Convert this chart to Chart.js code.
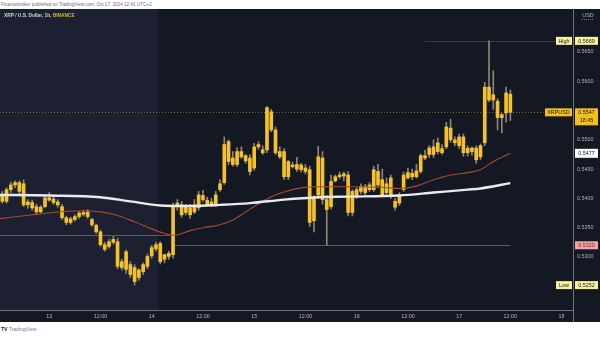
<!DOCTYPE html>
<html>
<head>
<meta charset="utf-8">
<script src="https://cdn.jsdelivr.net/npm/chart.js@4"></script>
<style>
  html, body { margin: 0; padding: 0; background: #fff; width: 600px; height: 337px; overflow: hidden; }
  #header { height: 9px; font: 4.6px 'Liberation Sans', Arial, sans-serif; color: #6a6d78; line-height: 9px; padding-left: 1px; white-space: nowrap; }
  #chart-wrap { width: 600px; height: 313px; }
  #footer { height: 15px; font: bold 5px 'Liberation Sans', Arial, sans-serif; color: #131722; line-height: 15px; padding-left: 1px; }
  #footer span { font-weight: normal; color: #787b86; }
</style>
</head>
<body>
<div id="header">Financebroker published on TradingView.com, Oct 17, 2024 12:41 UTC+2</div>
<div id="chart-wrap"><canvas id="xrp-chart" width="600" height="313"></canvas></div>
<div id="footer">TV <span>TradingView</span></div>
<script>
// XRP/USD 1h candles, Oct 12 12:00 -> Oct 17 12:00 (index = hours)
const opens = [
  0.5394, 0.5406, 0.5395, 0.5415, 0.5423, 0.5427, 0.5425, 0.5389, 0.5393, 0.5386,
  0.5377, 0.5386, 0.5401, 0.5399, 0.5394, 0.5386, 0.5367, 0.5359, 0.5364, 0.5369,
  0.5373, 0.5377, 0.5364, 0.5354, 0.5343, 0.5321, 0.5318, 0.5325, 0.5326, 0.5292,
  0.5279, 0.5287, 0.5282, 0.5265, 0.5275, 0.5284, 0.5302, 0.5314, 0.5323, 0.5296,
  0.5301, 0.5304, 0.5386, 0.5389, 0.5376, 0.5384, 0.5377, 0.5384, 0.5405, 0.5397,
  0.5390, 0.5389, 0.5415, 0.5427, 0.5463, 0.5469, 0.5458, 0.5480, 0.5464, 0.5469,
  0.5452, 0.5488, 0.5483, 0.5483, 0.5548, 0.5517, 0.5480, 0.5480, 0.5437, 0.5457,
  0.5458, 0.5449, 0.5452, 0.5449, 0.5362, 0.5406, 0.5469, 0.5398, 0.5386, 0.5430,
  0.5437, 0.5438, 0.5440, 0.5376, 0.5403, 0.5412, 0.5420, 0.5415, 0.5415, 0.5446,
  0.5432, 0.5410, 0.5435, 0.5395, 0.5392, 0.5415, 0.5435, 0.5437, 0.5437, 0.5446,
  0.5473, 0.5475, 0.5475, 0.5480, 0.5485, 0.5488, 0.5520, 0.5500, 0.5490, 0.5505,
  0.5478, 0.5480, 0.5486, 0.5471, 0.5495, 0.5590, 0.5568, 0.5566, 0.5538, 0.5546,
  0.5578
];
const highs = [
  0.5410, 0.5412, 0.5418, 0.5428, 0.5430, 0.5430, 0.5432, 0.5398, 0.5397, 0.5390,
  0.5388, 0.5405, 0.5410, 0.5404, 0.5398, 0.5390, 0.5370, 0.5368, 0.5372, 0.5378,
  0.5380, 0.5381, 0.5366, 0.5356, 0.5346, 0.5325, 0.5330, 0.5335, 0.5332, 0.5296,
  0.5312, 0.5292, 0.5287, 0.5280, 0.5290, 0.5305, 0.5320, 0.5325, 0.5326, 0.5305,
  0.5310, 0.5392, 0.5398, 0.5395, 0.5390, 0.5390, 0.5398, 0.5412, 0.5414, 0.5402,
  0.5400, 0.5412, 0.5432, 0.5505, 0.5500, 0.5480, 0.5487, 0.5488, 0.5475, 0.5475,
  0.5494, 0.5497, 0.5490, 0.5557, 0.5552, 0.5522, 0.5488, 0.5485, 0.5465, 0.5462,
  0.5470, 0.5460, 0.5458, 0.5455, 0.5405, 0.5489, 0.5480, 0.5405, 0.5440, 0.5440,
  0.5445, 0.5445, 0.5446, 0.5415, 0.5418, 0.5425, 0.5424, 0.5427, 0.5455, 0.5458,
  0.5450, 0.5435, 0.5440, 0.5400, 0.5410, 0.5445, 0.5452, 0.5450, 0.5458, 0.5476,
  0.5482, 0.5490, 0.5500, 0.5503, 0.5492, 0.5530, 0.5535, 0.5505, 0.5510, 0.5510,
  0.5490, 0.5488, 0.5490, 0.5493, 0.5598, 0.5669, 0.5618, 0.5570, 0.5545, 0.5590,
  0.5585
];
const lows = [
  0.5390, 0.5392, 0.5392, 0.5410, 0.5418, 0.5408, 0.5386, 0.5383, 0.5380, 0.5372,
  0.5375, 0.5384, 0.5395, 0.5390, 0.5385, 0.5364, 0.5355, 0.5356, 0.5361, 0.5366,
  0.5370, 0.5366, 0.5352, 0.5340, 0.5318, 0.5310, 0.5315, 0.5322, 0.5280, 0.5278,
  0.5272, 0.5265, 0.5252, 0.5260, 0.5270, 0.5280, 0.5298, 0.5310, 0.5288, 0.5290,
  0.5296, 0.5298, 0.5380, 0.5368, 0.5372, 0.5366, 0.5374, 0.5380, 0.5395, 0.5386,
  0.5386, 0.5386, 0.5412, 0.5424, 0.5458, 0.5455, 0.5454, 0.5468, 0.5460, 0.5440,
  0.5448, 0.5484, 0.5475, 0.5478, 0.5514, 0.5475, 0.5468, 0.5432, 0.5432, 0.5452,
  0.5446, 0.5445, 0.5442, 0.5352, 0.5343, 0.5400, 0.5390, 0.5320, 0.5382, 0.5428,
  0.5434, 0.5430, 0.5370, 0.5370, 0.5400, 0.5408, 0.5405, 0.5412, 0.5412, 0.5420,
  0.5403, 0.5407, 0.5400, 0.5380, 0.5388, 0.5412, 0.5433, 0.5432, 0.5435, 0.5443,
  0.5466, 0.5470, 0.5470, 0.5476, 0.5475, 0.5485, 0.5496, 0.5490, 0.5485, 0.5472,
  0.5472, 0.5474, 0.5460, 0.5466, 0.5490, 0.5565, 0.5552, 0.5517, 0.5512, 0.5530,
  0.5533
];
const closes = [
  0.5406, 0.5395, 0.5415, 0.5423, 0.5427, 0.5412, 0.5389, 0.5394, 0.5384, 0.5377,
  0.5385, 0.5401, 0.5397, 0.5393, 0.5389, 0.5367, 0.5359, 0.5365, 0.5369, 0.5375,
  0.5376, 0.5369, 0.5355, 0.5343, 0.5321, 0.5313, 0.5326, 0.5330, 0.5284, 0.5282,
  0.5309, 0.5270, 0.5258, 0.5278, 0.5287, 0.5301, 0.5316, 0.5321, 0.5292, 0.5304,
  0.5306, 0.5386, 0.5392, 0.5372, 0.5386, 0.5372, 0.5389, 0.5406, 0.5398, 0.5389,
  0.5394, 0.5406, 0.5425, 0.5492, 0.5497, 0.5458, 0.5480, 0.5471, 0.5473, 0.5446,
  0.5488, 0.5492, 0.5478, 0.5555, 0.5517, 0.5478, 0.5471, 0.5437, 0.5463, 0.5454,
  0.5450, 0.5457, 0.5446, 0.5359, 0.5402, 0.5471, 0.5398, 0.5381, 0.5429, 0.5437,
  0.5440, 0.5442, 0.5376, 0.5412, 0.5415, 0.5420, 0.5410, 0.5423, 0.5449, 0.5423,
  0.5406, 0.5425, 0.5403, 0.5385, 0.5406, 0.5440, 0.5444, 0.5443, 0.5447, 0.5473,
  0.5469, 0.5486, 0.5488, 0.5495, 0.5478, 0.5522, 0.5500, 0.5495, 0.5505, 0.5478,
  0.5486, 0.5486, 0.5466, 0.5490, 0.5590, 0.5568, 0.5577, 0.5538, 0.5543, 0.5580,
  0.5547
];

// moving averages at a few hours
const ma200Hours = [0, 12, 24, 31, 38, 45, 52, 59, 67, 75, 82, 94, 102, 110, 113, 120];
const ma200 = [0.5406, 0.5405, 0.5402, 0.5395, 0.5388, 0.5387, 0.5389, 0.5392, 0.5398, 0.5402,
               0.5403, 0.5405, 0.5410, 0.5415, 0.5417, 0.5426];
const ma50Hours = [0, 8, 16, 20, 24, 28, 32, 36, 39, 41, 45, 48, 52, 55, 58, 61, 64, 67, 71, 75,
                   82, 90, 94, 98, 102, 106, 110, 113, 116, 120];
const ma50 = [0.5365, 0.5372, 0.5378, 0.5379, 0.5377, 0.5371, 0.5360, 0.5348, 0.5340, 0.5337,
              0.5345, 0.5350, 0.5355, 0.5363, 0.5377, 0.5391, 0.5403, 0.5411, 0.5418, 0.5420,
              0.5420, 0.5419, 0.5417, 0.5421, 0.5432, 0.5440, 0.5444, 0.5449, 0.5463, 0.5477];

// axes
const xTickHours = [12, 24, 36, 48, 60, 72, 84, 96, 108, 120, 132];
const xTickLabels = ['13', '12:00', '14', '12:00', '15', '12:00', '16', '12:00', '17', '12:00', '18'];
const yTicks = [0.5300, 0.5350, 0.5400, 0.5450, 0.5500, 0.5600, 0.5650];

// markers
const lastPrice = 0.5547;
const countdown = '18:45';
const highPrice = 0.5669;
const highFromHour = 100;
const lowPrice = 0.5252;
const ma50Last = 0.5477;
const levelPrices = [0.5337, 0.5320];
const levelFrom = [0, 41];
const levelTo = [40, 120];
const shadedUntilHour = 37.5;

const BG = '#141823';
const SHADE = '#1c2031';
const TEXT = '#b2b5be';
const FONT = "'Liberation Sans', Arial, sans-serif";

const wickData = lows.map((l, i) => ({ x: i, y: [l, highs[i]] }));
const bodyData = opens.map((o, i) => ({ x: i, y: [o, closes[i]] }));
const ma200Data = ma200Hours.map((h, i) => ({ x: h, y: ma200[i] }));
const ma50Data = ma50Hours.map((h, i) => ({ x: h, y: ma50[i] }));

function priceTag(ctx, x, y, w, h, bg, fg, text) {
    ctx.fillStyle = bg;
    ctx.fillRect(x, y - h / 2, w, h);
    ctx.fillStyle = fg;
    ctx.textBaseline = 'middle';
    ctx.textAlign = 'center';
    ctx.fillText(text, x + w / 2, y + 0.3);
}

const backdrop = {
    id: 'backdrop',
    beforeDraw(chart) {
        const { ctx, chartArea, scales } = chart;
        ctx.save();
        ctx.fillStyle = BG;
        ctx.fillRect(0, 0, chart.width, chart.height);
        const xEnd = scales.x.getPixelForValue(shadedUntilHour);
        ctx.fillStyle = SHADE;
        ctx.fillRect(chartArea.left, chartArea.top, xEnd - chartArea.left, chartArea.bottom - chartArea.top);
        ctx.restore();
    },
    beforeDatasetsDraw(chart) {
        const { ctx, chartArea, scales } = chart;
        const x = scales.x, y = scales.y;
        ctx.save();
        ctx.lineWidth = 1;
        // horizontal levels
        ctx.strokeStyle = 'rgba(150, 140, 155, 0.55)';
        levelPrices.forEach((p, i) => {
            const py = Math.round(y.getPixelForValue(p)) + 0.5;
            ctx.beginPath();
            ctx.moveTo(Math.max(chartArea.left, x.getPixelForValue(levelFrom[i])), py);
            ctx.lineTo(x.getPixelForValue(levelTo[i]), py);
            ctx.stroke();
        });
        // high line
        ctx.strokeStyle = 'rgba(120, 123, 134, 0.35)';
        let py = Math.round(y.getPixelForValue(highPrice)) + 0.5;
        ctx.beginPath();
        ctx.moveTo(x.getPixelForValue(highFromHour), py);
        ctx.lineTo(chartArea.right, py);
        ctx.stroke();
        // last price line
        ctx.strokeStyle = 'rgba(230, 185, 50, 0.5)';
        ctx.setLineDash([1, 2]);
        py = Math.round(y.getPixelForValue(lastPrice)) + 0.5;
        ctx.beginPath();
        ctx.moveTo(chartArea.left, py);
        ctx.lineTo(chartArea.right, py);
        ctx.stroke();
        ctx.restore();
    },
    afterDraw(chart) {
        const { ctx, chartArea, scales } = chart;
        const y = scales.y;
        const axX = chartArea.right + 1;
        ctx.save();
        // separator running through the time axis
        ctx.strokeStyle = '#6f727c';
        ctx.lineWidth = 1;
        ctx.beginPath();
        ctx.moveTo(chartArea.right + 0.5, 0);
        ctx.lineTo(chartArea.right + 0.5, chart.height);
        ctx.stroke();

        ctx.font = '5.4px ' + FONT;
        // USD
        ctx.fillStyle = TEXT;
        ctx.textAlign = 'center';
        ctx.textBaseline = 'middle';
        ctx.fillText('USD', 588, 7);
        ctx.strokeStyle = 'rgba(178,181,190,0.6)';
        ctx.setLineDash([1, 1]);
        ctx.beginPath();
        ctx.moveTo(582, 10.5);
        ctx.lineTo(594, 10.5);
        ctx.stroke();
        ctx.setLineDash([]);

        // high / low
        let py = y.getPixelForValue(highPrice);
        priceTag(ctx, chartArea.right - 17, py, 16, 8, '#f6f0a0', '#222', 'High');
        priceTag(ctx, axX + 1, py, 23, 8, '#f6f0a0', '#222', highPrice.toFixed(4));
        py = y.getPixelForValue(lowPrice);
        priceTag(ctx, chartArea.right - 17, py, 16, 8, '#f6f0a0', '#222', 'Low');
        priceTag(ctx, axX + 1, py, 23, 8, '#f6f0a0', '#222', lowPrice.toFixed(4));

        // last price
        py = y.getPixelForValue(lastPrice);
        priceTag(ctx, chartArea.right - 28, py, 27, 8, '#f5bf1e', '#1a1a1a', 'XRPUSD');
        ctx.fillStyle = '#f5bf1e';
        ctx.fillRect(axX + 1, py - 4, 23, 17);
        ctx.fillStyle = '#1a1a1a';
        ctx.textAlign = 'center';
        ctx.fillText(lastPrice.toFixed(4), axX + 12.5, py + 0.3);
        ctx.fillText(countdown, axX + 12.5, py + 8.5);

        // MA value and level
        py = y.getPixelForValue(ma50Last);
        priceTag(ctx, axX + 1, py, 23, 9, '#ffffff', '#131722', ma50Last.toFixed(4));
        py = y.getPixelForValue(levelPrices[1]);
        priceTag(ctx, axX + 1, py, 23, 8, '#f2a5a8', '#7a1f25', levelPrices[1].toFixed(4));

        // title
        ctx.font = 'bold 4.8px ' + FONT;
        ctx.textAlign = 'left';
        ctx.fillStyle = '#d1d4dc';
        const title = 'XRP / U.S. Dollar, 1h, ';
        ctx.fillText(title, 4, 7);
        ctx.fillStyle = '#e0b43c';
        ctx.fillText('BINANCE', 4 + ctx.measureText(title).width, 7);
        ctx.restore();
    }
};

const chart = new Chart(document.getElementById('xrp-chart'), {
    type: 'bar',
    data: {
        datasets: [
            {
                type: 'line',
                label: 'MA 200',
                data: ma200Data,
                borderColor: '#e9e9ee',
                borderWidth: 2.4,
                pointRadius: 0,
                cubicInterpolationMode: 'monotone',
                order: 0
            },
            {
                type: 'line',
                label: 'MA 50',
                data: ma50Data,
                borderColor: '#a84a30',
                borderWidth: 1.1,
                pointRadius: 0,
                cubicInterpolationMode: 'monotone',
                order: 0
            },
            {
                label: 'Body',
                data: bodyData,
                backgroundColor: '#f5c22b',
                barThickness: 3,
                minBarLength: 1,
                grouped: false,
                order: 1
            },
            {
                label: 'Wick',
                data: wickData,
                backgroundColor: '#8d8674',
                barThickness: 1,
                grouped: false,
                order: 2
            }
        ]
    },
    options: {
        responsive: false,
        animation: false,
        devicePixelRatio: 1,
        layout: { padding: 0 },
        plugins: {
            legend: { display: false },
            tooltip: { enabled: false }
        },
        scales: {
            x: {
                type: 'linear',
                min: 0.468,
                max: 134.67,
                offset: false,
                grid: { display: false, drawTicks: false },
                border: { display: true, color: '#6f727c' },
                afterBuildTicks: (scale) => {
                    scale.ticks = xTickHours.map(v => ({ value: v }));
                },
                afterFit: (scale) => {
                    scale.height = 12;
                    scale.paddingLeft = 0;
                    scale.paddingRight = 0;
                },
                ticks: {
                    color: TEXT,
                    font: { size: 5.4, family: FONT },
                    padding: 3,
                    maxRotation: 0,
                    autoSkip: false,
                    callback: (value) => xTickLabels[xTickHours.indexOf(value)]
                }
            },
            y: {
                type: 'linear',
                position: 'right',
                min: 0.52095,
                max: 0.57234,
                grid: { display: false, drawTicks: false },
                border: { display: false },
                afterBuildTicks: (scale) => {
                    scale.ticks = yTicks.map(v => ({ value: v }));
                },
                afterFit: (scale) => {
                    scale.width = 27;
                    scale.paddingTop = 0;
                    scale.paddingBottom = 0;
                },
                ticks: {
                    color: TEXT,
                    font: { size: 5.4, family: FONT },
                    padding: 4,
                    callback: (value) => value.toFixed(4)
                }
            }
        }
    },
    plugins: [backdrop]
});
</script>
</body>
</html>
